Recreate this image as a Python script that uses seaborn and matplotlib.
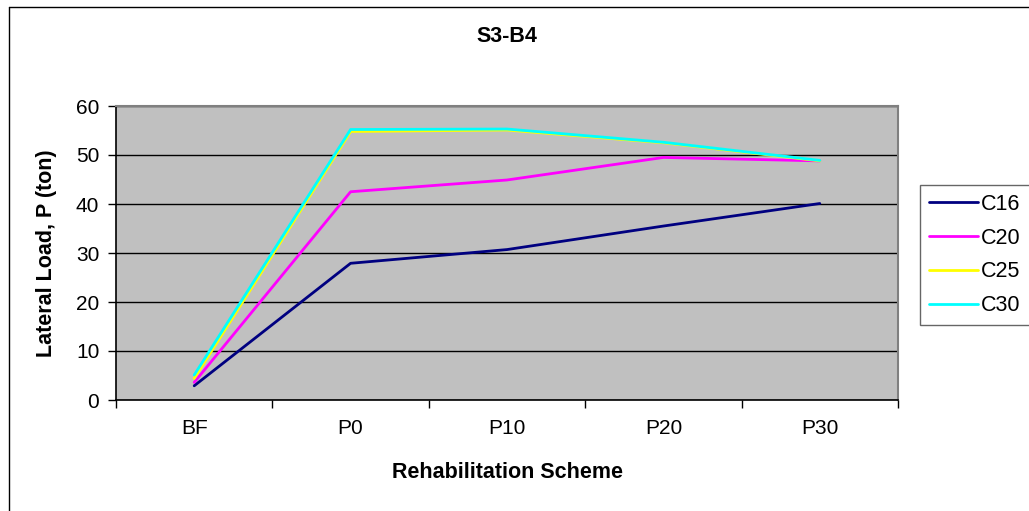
import matplotlib
matplotlib.use("Agg")
import matplotlib.pyplot as plt
from matplotlib.lines import Line2D
from matplotlib.ticker import FixedLocator, NullFormatter
import seaborn as sns
import pandas as pd

schemes = ["BF", "P0", "P10", "P20", "P30"]
c16 = [2.9, 27.9, 30.7, 35.5, 40.1]
c20 = [3.6, 42.5, 44.9, 49.5, 48.8]
c25 = [4.4, 54.8, 55.1, 52.5, 48.8]
c30 = [5.1, 55.2, 55.3, 52.6, 48.9]
series_names = ["C16", "C20", "C25", "C30"]
series_colors = ["#000080", "#FF00FF", "#FFFF00", "#00FFFF"]

rows = []
for name, vals in zip(series_names, [c16, c20, c25, c30]):
    for s, v in zip(schemes, vals):
        rows.append({"Scheme": s, "Load": v, "Concrete": name})
df = pd.DataFrame(rows)

sns.set_theme(style="white")
plt.rcParams["font.family"] = ["Liberation Sans", "DejaVu Sans"]
plt.rcParams.update({"text.color": "black", "axes.labelcolor": "black",
                     "xtick.color": "black", "ytick.color": "black"})

W, H = 1029, 511
fig = plt.figure(figsize=(W / 100, H / 100), dpi=100)
ax = fig.add_axes([116 / W, 1 - 400 / H, (898 - 116) / W, (400 - 106) / H])
ax.set_facecolor("#C0C0C0")

sns.lineplot(data=df, x="Scheme", y="Load", hue="Concrete",
             palette=dict(zip(series_names, series_colors)),
             linewidth=2, ax=ax, sort=False, legend=False)

ax.set_xlim(-0.5, len(schemes) - 0.5)
ax.set_ylim(0, 60)
ax.set_yticks(range(0, 61, 10))
ax.yaxis.grid(True, color="black", linewidth=1)
ax.set_axisbelow(True)

ax.set_xticks(range(len(schemes)))
ax.set_xticklabels(schemes)
ax.xaxis.set_minor_locator(FixedLocator([i - 0.5 for i in range(len(schemes) + 1)]))
ax.xaxis.set_minor_formatter(NullFormatter())
ax.tick_params(axis="x", which="major", length=0, labelsize=15, pad=14, labelcolor="black")
ax.tick_params(axis="x", which="minor", length=6, width=1, color="black", direction="out", bottom=True)
ax.tick_params(axis="y", which="major", length=6, width=1, color="black", direction="out",
               left=True, labelsize=15, pad=6, labelcolor="black")

for side in ["left", "bottom"]:
    ax.spines[side].set_color("black")
    ax.spines[side].set_linewidth(1.2)
for side in ["top", "right"]:
    ax.spines[side].set_color("#808080")
    ax.spines[side].set_linewidth(1.5)

ax.set_xlabel("Rehabilitation Scheme", fontsize=15.5, fontweight="bold", color="black")
ax.set_ylabel("Lateral Load, P (ton)", fontsize=15.5, fontweight="bold", color="black")
ax.xaxis.set_label_coords(0.5, (400 - 472) / 294)
ax.yaxis.set_label_coords((47 - 116) / 782, 0.5)
ax.xaxis.label.set_va("center")
ax.yaxis.label.set_va("center")
fig.text((116 + 898) / 2 / W, 1 - 37 / H, "S3-B4", ha="center", va="center",
         fontsize=15.5, fontweight="bold", color="black")

handles = [Line2D([], [], color=c, linewidth=2) for c in series_colors]
leg = fig.legend(handles, series_names, loc="upper left",
                 bbox_to_anchor=(920 / W, 1 - 185 / H), frameon=True,
                 fontsize=15.5, handlelength=2.3, handletextpad=0.15,
                 borderpad=0.4, labelspacing=0.6, fancybox=False, borderaxespad=0,
                 labelcolor="black")
leg.get_frame().set_edgecolor("#404040")
leg.get_frame().set_linewidth(1)

# outer chart frame (left and top edges)
fig.add_artist(Line2D([9 / W, 9 / W], [0, 1 - 7 / H], color="black", linewidth=1,
                      transform=fig.transFigure))
fig.add_artist(Line2D([9 / W, 1], [1 - 7 / H, 1 - 7 / H], color="black", linewidth=1,
                      transform=fig.transFigure))

fig.savefig("out.png", dpi=100)
